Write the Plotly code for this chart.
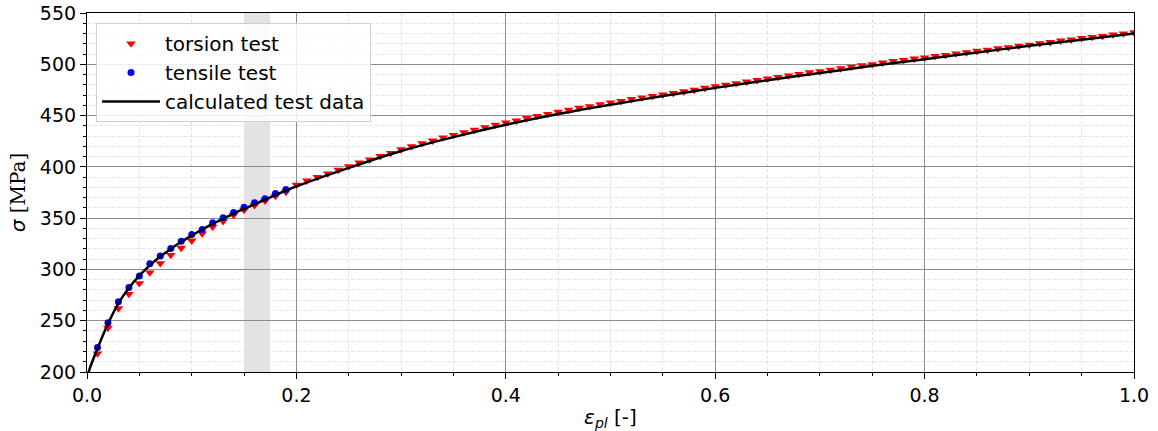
import plotly.graph_objects as go

# ---------------- data ----------------
torsion_x = [round(0.01 * i, 2) for i in range(1, 101)]
torsion_y = [
    218, 243, 262, 276, 286.5, 297, 306, 314, 321, 328,
    335, 341.5, 347, 353, 358, 362.5, 367, 371.5, 375.5, 382.5,
    386.5, 390, 393.5, 397, 400.5, 404, 407, 410.5, 413.5, 417,
    420, 423, 425.5, 428.5, 431, 433.5, 436, 438.5, 441, 443,
    445, 447.5, 449.5, 451.5, 453.5, 455.5, 457.5, 459, 461, 462.5,
    464, 466, 467.5, 469, 470.5, 472, 473.5, 475, 477, 478.5,
    480, 481.5, 483, 484.5, 486, 487.5, 489, 490.5, 492, 493,
    494.5, 496, 497.5, 499, 500, 501.5, 503, 504, 505.5, 506.5,
    508, 509, 510.5, 511.5, 513, 514, 515.5, 516.5, 518, 519,
    520.5, 521.5, 523, 524, 525.5, 526.5, 527.5, 529, 530, 531,
]

tensile_x = [0.01, 0.02, 0.03, 0.04, 0.05, 0.06, 0.07, 0.08, 0.09, 0.10,
             0.11, 0.12, 0.13, 0.14, 0.15, 0.16, 0.17, 0.18, 0.19]
tensile_y = [224, 248, 268.5, 282.5, 293.5, 305.5, 313, 320.5, 327.5, 334,
             339, 345.5, 350.5, 355.5, 360.5, 365, 369, 374, 378]

calc_x = [0.0, 0.0025, 0.005, 0.01, 0.02, 0.03, 0.04, 0.05, 0.06, 0.07, 0.08,
          0.09, 0.10, 0.11, 0.12, 0.13, 0.14, 0.15, 0.16, 0.17, 0.18, 0.19,
          0.20, 0.25, 0.30, 0.35, 0.40, 0.45, 0.50, 0.55, 0.60, 0.65, 0.70,
          0.75, 0.80, 0.85, 0.90, 0.95, 1.00]
calc_y = [194, 203, 210, 223, 247, 267, 282, 294, 304, 312.5, 320,
          327, 333, 339, 344.5, 349.5, 354.5, 359, 363.5, 368, 372.5, 377,
          381, 399, 415.5, 429, 441, 451.5, 460.5, 469, 477, 484.5, 491.5,
          498.5, 505, 511.5, 518, 524, 530]

band_x = [0.15, 0.175]
x_ticks = [0.0, 0.2, 0.4, 0.6, 0.8, 1.0]
x_tick_labels = ["0.0", "0.2", "0.4", "0.6", "0.8", "1.0"]
y_ticks = [200, 250, 300, 350, 400, 450, 500, 550]

FONT = "DejaVu Sans"

fig = go.Figure()

fig.add_trace(go.Scatter(
    x=torsion_x, y=torsion_y, mode="markers", name="torsion test",
    marker=dict(symbol="triangle-down", color="#ff0000", size=8.5, line=dict(width=0)),
))
fig.add_trace(go.Scatter(
    x=tensile_x, y=tensile_y, mode="markers", name="tensile test",
    marker=dict(symbol="circle", color="#0000ff", size=7, line=dict(width=0)),
))
fig.add_trace(go.Scatter(
    x=calc_x, y=calc_y, mode="lines", name="calculated test data",
    line=dict(color="black", width=2.5, shape="spline", smoothing=0.8),
))

fig.add_shape(type="rect", xref="x", yref="paper", x0=band_x[0], x1=band_x[1],
              y0=0, y1=1, fillcolor="rgba(128,128,128,0.22)", line=dict(width=0),
              layer="below")

axis_common = dict(
    showline=True, linecolor="black", linewidth=1.2, mirror=True,
    ticks="outside", ticklen=6, tickwidth=1.2, tickcolor="black",
    showgrid=True, gridcolor="#8c8c8c", gridwidth=1,
    zeroline=False, automargin=False, ticklabeloverflow="allow",
    tickfont=dict(family=FONT, size=19, color="black"),
)

minor_common = dict(showgrid=True, gridcolor="#e4e4e4", griddash="4px,2px",
                    gridwidth=0.8, ticks="outside", ticklen=3, tickcolor="black")

fig.update_xaxes(
    **axis_common,
    range=[0, 1.0], tickvals=x_ticks, ticktext=x_tick_labels,
    minor=dict(dtick=0.05, **minor_common),
    title=dict(text="<i>ε</i><sub><i>pl</i></sub> [-]",
               font=dict(family=FONT, size=20, color="black"), standoff=6),
)
fig.update_yaxes(
    **axis_common,
    range=[200, 550], tickvals=y_ticks,
    minor=dict(dtick=10, **minor_common),
    title=dict(text="<i>σ</i> <span style=\"font-family:'DejaVu Serif'\">[MPa]</span>",
               font=dict(family=FONT, size=20, color="black"), standoff=8),
)

fig.update_layout(
    width=1158, height=431,
    margin=dict(l=87, r=24, t=13, b=59),
    paper_bgcolor="white", plot_bgcolor="white",
    font=dict(family=FONT, size=19, color="black"),
    showlegend=True,
    legend=dict(
        x=0.0086, y=0.972, xanchor="left", yanchor="top",
        bgcolor="rgba(255,255,255,0.85)", bordercolor="#d0d0d0", borderwidth=1,
        font=dict(family=FONT, size=20, color="black"),
        itemwidth=58,
    ),
)

# remove the default page margin so the figure sits at the window's corner
fig.write_html("out.html",
               config={"displayModeBar": False},
               post_script="document.body.style.margin='0';document.body.style.overflow='hidden';")
